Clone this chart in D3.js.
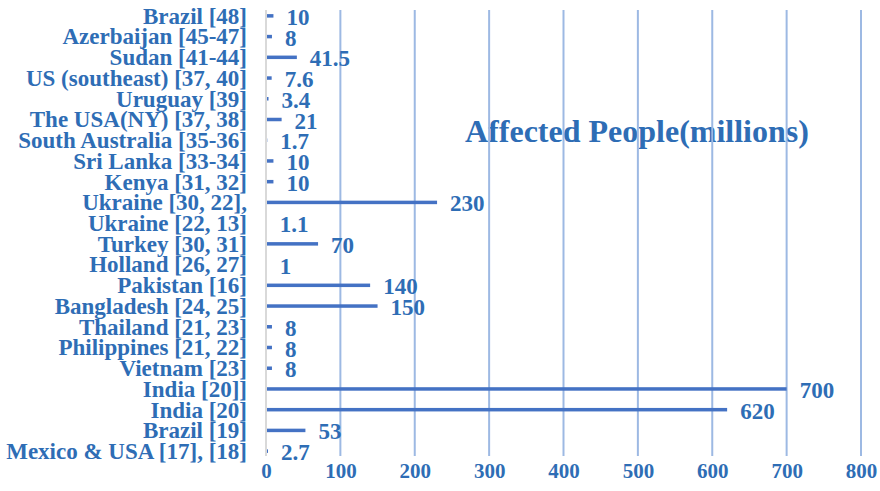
<!DOCTYPE html>
<html><head><meta charset="utf-8">
<script src="https://cdn.jsdelivr.net/npm/d3@7"></script>
<style>body{margin:0;background:#fff}</style>
</head><body><svg id="c" width="880" height="491"></svg>
<script>
// bottom-to-top order as in the picture
const categories = ["Mexico & USA [17], [18]","Brazil [19]","India [20]","India [20]]","Vietnam [23]","Philippines [21, 22]","Thailand [21, 23]","Bangladesh [24, 25]","Pakistan [16]","Holland [26, 27]","Turkey [30, 31]","Ukraine [22, 13]","Ukraine [30, 22],","Kenya [31, 32]","Sri Lanka [33-34]","South Australia [35-36]","The USA(NY) [37, 38]","Uruguay [39]","US (southeast) [37, 40]","Sudan [41-44]","Azerbaijan [45-47]","Brazil [48]"];
const values = [2.7,53,620,700,8,8,8,150,140,1,70,1.1,230,10,10,1.7,21,3.4,7.6,41.5,8,10];
const valueLabels = ["2.7","53","620","700","8","8","8","150","140","1","70","1.1","230","10","10","1.7","21","3.4","7.6","41.5","8","10"];
const xTicks = [0,100,200,300,400,500,600,700,800];
const title = "Affected People(millions)";

const svg = d3.select("#c");
const font = "'Liberation Serif','Times New Roman',serif";
const textColor = "#2E6DB5";
const x = d3.scaleLinear().domain([0,800]).range([266,861]);
const idx = d3.range(categories.length);
const y = d3.scaleBand().domain(idx.slice().reverse()).range([5.5,461.5]);

// title (under gridlines)
svg.append("text").attr("x",465).attr("y",142).attr("font-family",font).attr("font-weight","bold")
  .attr("font-size",32).attr("fill",textColor).text(title);

// gridlines
svg.append("g").selectAll("line").data(xTicks).join("line")
  .attr("x1",d=>x(d)).attr("x2",d=>x(d)).attr("y1",10).attr("y2",456)
  .attr("stroke",d=>d===0?"#D9D9D9":"#9DB9E3").attr("stroke-width",2);

// bars
svg.append("g").selectAll("rect").data(idx).join("rect")
  .attr("x",x(0)+1).attr("y",i=>y(i)+y.bandwidth()/2-1.75)
  .attr("width",i=>Math.max(0,x(values[i])-x(0)-1)).attr("height",3.5)
  .attr("fill","#4472C4");

// value labels
svg.append("g").selectAll("text").data(idx).join("text")
  .attr("x",i=>x(values[i])+13).attr("y",i=>y(i)+y.bandwidth()/2+1)
  .attr("dy","0.35em").attr("font-family",font).attr("font-weight","bold").attr("font-size",23)
  .attr("fill",textColor).text(i=>valueLabels[i]);

// category axis
const yAxis = d3.axisLeft(y).tickSize(0).tickPadding(0).tickFormat(i=>categories[i]);
const ya = svg.append("g").attr("transform","translate(247,0.5)").call(yAxis);
ya.select(".domain").remove();
ya.selectAll("text").attr("font-family",font).attr("font-weight","bold").attr("font-size",23).attr("fill",textColor);

// x axis labels
const xAxis = d3.axisBottom(x).tickValues(xTicks).tickSize(0).tickPadding(0).tickFormat(d3.format("d"));
const xa = svg.append("g").attr("transform","translate(0,463)").call(xAxis);
xa.select(".domain").remove();
xa.selectAll("text").attr("font-family",font).attr("font-weight","bold").attr("font-size",21).attr("fill",textColor);
</script></body></html>
